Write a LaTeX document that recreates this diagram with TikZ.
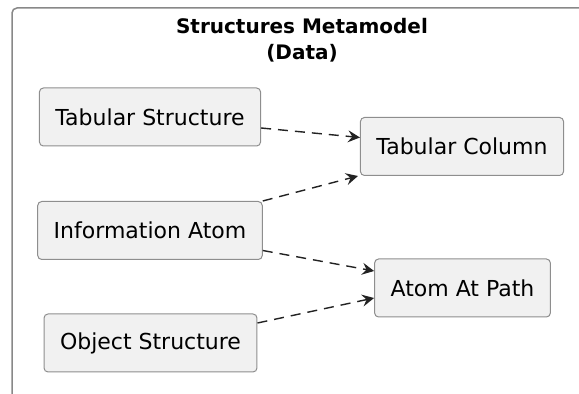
\documentclass[tikz,border=0pt]{standalone}
\usepackage{fontspec}
\setmainfont{DejaVu Sans}
\usepackage{tikz}
\usetikzlibrary{arrows.meta}
\usetikzlibrary{positioning}
\definecolor{boxfill}{HTML}{F1F1F1}
\definecolor{boxline}{HTML}{8E8E8E}
\definecolor{frameline}{HTML}{888888}
\definecolor{depline}{HTML}{222222}
\tikzset{entity/.style = {draw = boxline, fill = boxfill, line width = 0.5pt,
                          rounded corners = 2pt, inner xsep = 8pt,
                          minimum height = 29pt, text = black,
                          font = \fontsize{11}{13}\selectfont}}
\tikzset{dep/.style = {draw = depline, line width = 0.7pt,
                       dash pattern = on 5pt off 3.5pt,
                       -{Stealth[length = 6pt, width = 6pt, inset = 2.2pt]}}}
\tikzset{pkg/.style = {draw = frameline, line width = 0.75pt, rounded corners = 2.5pt}}

\begin{document}
\begin{tikzpicture}[x = 0.5pt, y = -0.5pt]
    \useasboundingbox (0, 0) rectangle (579, 394);
    \draw [pkg] (12, 420) |- (600, 8);

    \node [align = center, font = \fontsize{10}{13}\selectfont\bfseries] (title)
        at (302, 40) {Structures Metamodel\\(Data)};

    \node [entity] (ts) at (150, 117) {Tabular Structure};
    \node [entity] (ia) at (150, 230.5) {Information Atom};
    \node [entity] (os) at (150.5, 343) {Object Structure};
    \node [entity] (tc) at (462, 146.5) {Tabular Column};
    \node [entity] (ap) at (462.5, 288) {Atom At Path};

    \draw [dep] ([yshift = -5.5pt] ts.east) -- ([yshift = 4.5pt] tc.west);
    \draw [dep] (ia.north east) -- ([xshift = -1pt] tc.south west);
    \draw [dep] ([yshift = -10pt] ia.east) -- ([yshift = 8.5pt] ap.west);
    \draw [dep] ([yshift = 10pt] os.east) -- ([yshift = -5pt] ap.west);
\end{tikzpicture}
\end{document}
